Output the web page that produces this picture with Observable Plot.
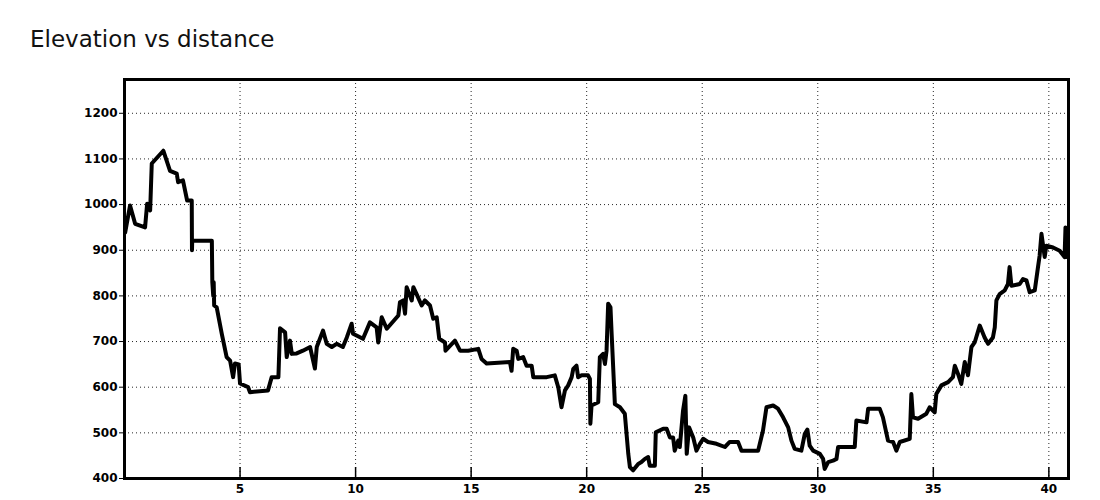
<!DOCTYPE html>
<html>
<head>
<meta charset="utf-8">
<script src="https://cdn.jsdelivr.net/npm/d3@7"></script>
<script src="https://cdn.jsdelivr.net/npm/@observablehq/plot@0.6"></script>
<style>
  html, body { margin: 0; padding: 0; background: #fff; width: 1100px; height: 500px; overflow: hidden; }
  #title { position: absolute; left: 30px; top: 28px; font-family: "DejaVu Sans", sans-serif; font-size: 23px; line-height: 1; color: #111; }
  #chart { position: absolute; left: 0; top: 60px; }
</style>
</head>
<body>
<div id="title">Elevation vs distance</div>
<div id="chart"></div>
<script>
const titleText = "Elevation vs distance";
const xTicks = [5, 10, 15, 20, 25, 30, 35, 40];
const yTicks = [400, 500, 600, 700, 800, 900, 1000, 1100, 1200];

const distanceKm = [
  0.03, 0.24, 0.46, 0.89, 0.98, 1.11, 1.18, 1.68, 1.97, 2.26,
  2.32, 2.53, 2.71, 2.91, 2.92, 2.93, 3.78, 3.80, 3.84, 3.86,
  3.88, 3.99, 4.21, 4.42, 4.57, 4.70, 4.78, 4.94, 5.00, 5.35,
  5.43, 6.21, 6.37, 6.66, 6.73, 6.95, 7.02, 7.16, 7.24, 7.45,
  7.72, 8.03, 8.24, 8.32, 8.59, 8.75, 8.97, 9.18, 9.45, 9.62,
  9.83, 9.89, 10.32, 10.62, 10.91, 10.98, 11.13, 11.35, 11.85, 11.92,
  12.06, 12.14, 12.21, 12.43, 12.50, 12.64, 12.86, 13.00, 13.22, 13.36,
  13.51, 13.62, 13.87, 13.89, 14.30, 14.52, 14.87, 15.31, 15.45, 15.67,
  16.68, 16.75, 16.82, 16.97, 17.04, 17.25, 17.40, 17.62, 17.69, 18.27,
  18.62, 18.77, 18.91, 19.06, 19.20, 19.35, 19.42, 19.56, 19.63, 19.78,
  20.06, 20.14, 20.16, 20.21, 20.50, 20.57, 20.71, 20.79, 20.86, 20.93,
  21.03, 21.08, 21.22, 21.44, 21.65, 21.80, 21.87, 22.01, 22.23, 22.37,
  22.52, 22.66, 22.73, 22.95, 22.99, 23.31, 23.46, 23.60, 23.74, 23.81,
  23.96, 24.03, 24.17, 24.27, 24.33, 24.43, 24.61, 24.75, 24.90, 25.04,
  25.25, 25.62, 25.98, 26.19, 26.55, 26.70, 27.42, 27.63, 27.78, 28.07,
  28.28, 28.50, 28.72, 28.86, 29.00, 29.29, 29.44, 29.55, 29.65, 29.80,
  30.09, 30.23, 30.30, 30.45, 30.66, 30.81, 30.88, 31.60, 31.67, 32.11,
  32.18, 32.68, 32.82, 33.04, 33.26, 33.40, 33.55, 33.98, 34.05, 34.12,
  34.34, 34.70, 34.84, 35.06, 35.13, 35.35, 35.64, 35.85, 35.93, 36.07,
  36.21, 36.36, 36.50, 36.65, 36.79, 37.01, 37.22, 37.37, 37.58, 37.66,
  37.73, 37.87, 38.09, 38.23, 38.30, 38.38, 38.74, 38.88, 39.03, 39.17,
  39.39, 39.53, 39.60, 39.68, 39.82, 39.89, 40.18, 40.47, 40.68, 40.72,
  40.75
];
const elevationM = [
  939, 998, 958, 950, 1002, 987, 1090, 1118, 1074, 1068,
  1049, 1053, 1009, 1009, 900, 921, 921, 830, 800, 830,
  779, 775, 717, 666, 658, 622, 652, 650, 608, 600,
  589, 593, 622, 622, 729, 720, 666, 702, 673, 674,
  680, 688, 641, 688, 724, 695, 688, 695, 688, 709,
  739, 717, 706, 742, 731, 698, 753, 728, 757, 786,
  790, 761, 819, 790, 819, 804, 779, 790, 779, 750,
  753, 706, 698, 680, 702, 680, 680, 684, 662, 652,
  655, 636, 684, 680, 662, 666, 647, 647, 622, 622,
  626, 600, 556, 593, 604, 622, 640, 647, 622, 626,
  626, 618, 520, 560, 567, 666, 673, 651, 680, 783,
  775, 717, 563, 556, 542, 454, 425, 418, 432, 436,
  443, 447, 428, 428, 501, 509, 509, 490, 490, 461,
  483, 469, 549, 581, 454, 512, 490, 461, 476, 487,
  480, 476, 469, 480, 480, 461, 461, 505, 556, 560,
  553, 534, 512, 483, 465, 461, 498, 507, 472, 461,
  454, 443, 421, 436, 439, 443, 469, 469, 527, 523,
  553, 553, 534, 483, 480, 461, 480, 487, 585, 534,
  531, 542, 556, 545, 585, 604, 611, 622, 647, 629,
  607, 655, 626, 688, 698, 735, 709, 695, 709, 731,
  790, 804, 812, 826, 863, 822, 826, 837, 834, 808,
  812, 863, 888, 936, 885, 910, 906, 899, 885, 950,
  885
];

document.getElementById("title").textContent = titleText;
const points = distanceKm.map((d, i) => ({d, e: elevationM[i]}));

const chart = Plot.plot({
  width: 1100,
  height: 440,
  marginTop: 19,
  marginBottom: 22,
  marginLeft: 124,
  marginRight: 32,
  x: {domain: [0, 40.85], label: null},
  y: {domain: [400, 1274], label: null},
  style: {fontFamily: "DejaVu Sans, sans-serif", fontSize: "12px", fontWeight: "bold", color: "#000", background: "#fff", overflow: "visible"},
  marks: [
    Plot.gridX(xTicks, {stroke: "#000", strokeOpacity: 0.85, strokeDasharray: "1,3"}),
    Plot.gridY(yTicks.filter(v => v > 400), {stroke: "#000", strokeOpacity: 0.85, strokeDasharray: "1,3"}),
    Plot.line(points, {x: "d", y: "e", stroke: "#000", strokeWidth: 4, strokeLinejoin: "round", curve: "linear"}),
    Plot.tickX(xTicks, {x: d => d, stroke: "#000", strokeWidth: 1.5, insetTop: 388}),
    Plot.axisX(xTicks, {tickSize: 0, tickPadding: 6, tickFormat: d => String(d), fill: "#000"}),
    Plot.axisY(yTicks, {tickSize: 5, tickPadding: 2, tickFormat: d => String(d), stroke: "#000", fill: "#000"}),
    Plot.frame({stroke: "#000", strokeWidth: 3})
  ]
});
document.getElementById("chart").appendChild(chart);
</script>
</body>
</html>
